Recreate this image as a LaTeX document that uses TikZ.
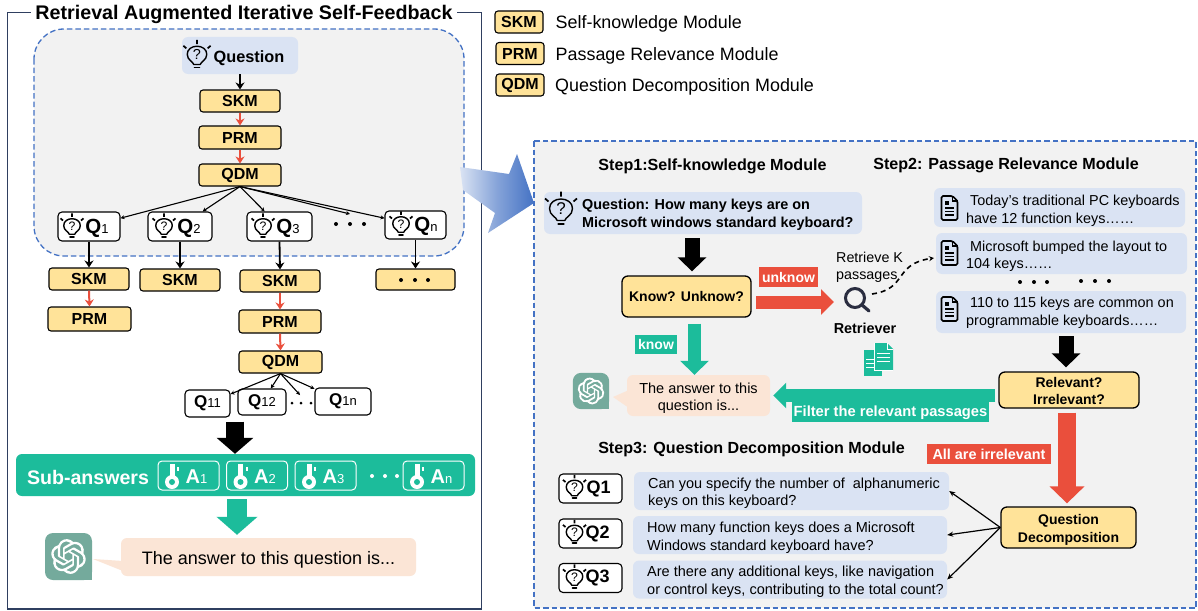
\documentclass[tikz,border=0pt]{standalone}
\usepackage{fontspec}
\setmainfont{Liberation Sans}
\usetikzlibrary{arrows.meta}
\usetikzlibrary{svg.path}
\definecolor{modfill}{HTML}{FFE399}
\definecolor{askfill}{HTML}{DAE3F3}
\definecolor{panelfill}{HTML}{F2F2F2}
\definecolor{dashblue}{HTML}{4472C4}
\definecolor{framenavy}{HTML}{2F3F60}
\definecolor{mint}{HTML}{1CBC9B}
\definecolor{tomato}{HTML}{EA4F3C}
\definecolor{peach}{HTML}{FBE5D6}
\definecolor{gptgreen}{HTML}{74AA9C}
\definecolor{lensink}{HTML}{2A2D40}
\newcommand{\fs}[1]{\fontsize{#1}{17.5}\selectfont}
\newcommand{\subq}[2]{\textbf{#1}{\fontsize{13}{13}\selectfont #2}}
\tikzset{
	every node/.style = {inner sep = 0pt},
	panel/.style = {draw = dashblue, fill = panelfill, line width = 1.3pt, dash pattern = on 5.5pt off 3pt},
	modbox/.style = {draw = black, fill = modfill, line width = 1.1pt, rounded corners = 3pt, font = \fs{16}\bfseries, align = center},
	bigbox/.style = {modbox, line width = 1.3pt, rounded corners = 6pt, font = \fs{14}\bfseries},
	qbox/.style = {draw = black, fill = white, line width = 1.1pt, rounded corners = 4pt},
	ask/.style = {fill = askfill, rounded corners = 6pt},
	reply/.style = {fill = peach, rounded corners = 6pt},
	tag/.style = {text = white, font = \fs{14}\bfseries},
	plain/.style = {font = \fs{14.4}, align = left, anchor = west},
	stepname/.style = {font = \fs{16.1}\bfseries},
	blackline/.style = {draw = black, line width = 1.8pt, -{Stealth[length = 7pt, width = 9pt]}},
	redline/.style = {draw = tomato, line width = 2pt, -{Stealth[length = 7pt, width = 9pt]}},
	thinline/.style = {draw = black, line width = 1.1pt, -{Stealth[length = 4pt, width = 4pt]}},
	fat/.style n args = {3}{line width = #1pt, -{Triangle[length = #2pt, width = #3pt]}},
	dot/.style = {circle, fill = #1, minimum size = 4pt},
	bulb/.pic = {
		\draw[line width = 1.4pt, line cap = round, line join = round] (-3.8, 10) .. controls (-4.5, 6.5) and (-11.5, 5) .. (-11.5, -2)
			.. controls (-11.5, -8) and (-6, -11.5) .. (0, -11.5) .. controls (6, -11.5) and (11.5, -8) .. (11.5, -2)
			.. controls (11.5, 5) and (4.5, 6.5) .. (3.8, 10) -- cycle;
		\draw[line width = 1.8pt, line cap = round] (-2.8, 13.5) -- (2.8, 13.5);
		\draw[line width = 1.7pt] (0, -14) -- (0, -19) (-12.5, -9) -- (-16, -12) (12.5, -9) -- (16, -12);
		\node[transform shape, font = \fs{17}] (-mark) at (0, -1.5) {?};
	},
	keyicon/.pic = {
		\fill[white] (-2.5, -18) rectangle (2.5, 0);
		\fill[white] (0, 0) circle (7);
		\fill[mint] (0, 0) circle (3);
		\fill[white] (5, -15.5) rectangle (7, -11.5);
	},
	docicon/.pic = {
		\draw[line width = 1.7pt, rounded corners = 1.5pt] (-8, -12) -- (3, -12) -- (8, -7) -- (8, 12) -- (-8, 12) -- cycle;
		\draw[line width = 1.2pt] (3, -12) -- (3, -7) -- (8, -7);
		\fill (-4.5, -7) rectangle (-0.5, -3);
		\draw[line width = 1.4pt] (-4.5, 0) -- (4.5, 0) (-4.5, 3.5) -- (4.5, 3.5) (-4.5, 7) -- (4.5, 7);
	},
	gptlogo/.pic = {
		\fill[gptgreen, rounded corners = 8pt] (-23.5, -23.5) rectangle (23.5, 23.5);
		\fill[gptgreen] (10, 10) rectangle (23.5, 23.5);
		\fill[white, xscale = 1.45, yscale = -1.45, shift = {(-12pt, -12pt)}] svg "M22.2819 9.8211 a5.9847 5.9847 0 0 0 -0.5157 -4.9108 a6.0462 6.0462 0 0 0 -6.5098 -2.9 A6.0651 6.0651 0 0 0 4.9807 4.1818 a5.9847 5.9847 0 0 0 -3.9977 2.9 a6.0462 6.0462 0 0 0 0.7427 7.0966 a5.98 5.98 0 0 0 0.511 4.9107 a6.051 6.051 0 0 0 6.5146 2.9001 A5.9847 5.9847 0 0 0 13.2599 24 a6.0557 6.0557 0 0 0 5.7718 -4.2058 a5.9894 5.9894 0 0 0 3.9977 -2.9001 a6.0557 6.0557 0 0 0 -0.7475 -7.0729 z M13.2599 22.4292 a4.4755 4.4755 0 0 1 -2.8764 -1.0408 l0.1419 -0.0804 l4.7783 -2.7582 a0.7948 0.7948 0 0 0 0.3927 -0.6813 v-6.7369 l2.02 1.1686 a0.071 0.071 0 0 1 0.038 0.052 v5.5826 a4.504 4.504 0 0 1 -4.4945 4.4944 z M3.5992 18.3038 a4.4708 4.4708 0 0 1 -0.5346 -3.0137 l0.142 0.0852 l4.783 2.7582 a0.7712 0.7712 0 0 0 0.7806 0 l5.8428 -3.3685 v2.3324 a0.0804 0.0804 0 0 1 -0.0332 0.0615 L9.74 19.9502 a4.4992 4.4992 0 0 1 -6.1408 -1.6464 z M2.3408 7.8956 a4.485 4.485 0 0 1 2.3655 -1.9728 V11.6 a0.7664 0.7664 0 0 0 0.3879 0.6765 l5.8144 3.3543 l-2.0201 1.1685 a0.0757 0.0757 0 0 1 -0.071 0 l-4.8303 -2.7865 A4.504 4.504 0 0 1 2.3408 7.872 z M18.9371 11.7514 L13.1038 8.364 L15.1192 7.2 a0.0757 0.0757 0 0 1 0.071 0 l4.8303 2.7913 a4.4944 4.4944 0 0 1 -0.6765 8.1042 v-5.6772 a0.79 0.79 0 0 0 -0.407 -0.667 z M20.9478 8.7283 l-0.142 -0.0852 l-4.7735 -2.7818 a0.7759 0.7759 0 0 0 -0.7854 0 L9.409 9.2297 V6.8974 a0.0662 0.0662 0 0 1 0.0284 -0.0615 l4.8303 -2.7866 a4.4992 4.4992 0 0 1 6.6802 4.66 z M8.3065 12.863 l-2.02 -1.1638 a0.0804 0.0804 0 0 1 -0.038 -0.0567 V6.0742 a4.4992 4.4992 0 0 1 7.3757 -3.4537 l-0.142 0.0805 L8.704 5.459 a0.7948 0.7948 0 0 0 -0.3927 0.6813 z M9.4041 10.4976 l2.602 -1.4998 l2.6069 1.4998 v2.9994 l-2.5974 1.4997 l-2.6067 -1.4997 z";
	},
}
\begin{document}
\begin{tikzpicture}[x = 1pt, y = -1pt]
	\useasboundingbox (0, 0) rectangle (1198, 610);
	\fill[white] (0, 0) rectangle (1198, 610);
	\draw[framenavy, line width = 1.5pt] (7.5, 12.5) rectangle (481.5, 609);
	\node[fill = white, minimum height = 6pt, font = \fs{19.7}\bfseries, inner xsep = 4pt] (title) at (244, 14) {Retrieval Augmented Iterative Self-Feedback};
	\draw[panel, rounded corners = 30pt] (34, 29) rectangle (464, 256);
	\draw[panel] (534, 141) rectangle (1196, 608);

	\node[modbox, minimum width = 48pt, minimum height = 22pt] (legendskm) at (519, 22) {SKM};
	\node[modbox, minimum width = 48pt, minimum height = 22pt] (legendprm) at (520, 53.5) {PRM};
	\node[modbox, minimum width = 48pt, minimum height = 22pt] (legendqdm) at (520, 85) {QDM};
	\node[font = \fs{17.9}, anchor = west] (legendskmtext) at (555.5, 23.5) {Self-knowledge Module};
	\node[font = \fs{17.9}, anchor = west] (legendprmtext) at (555.5, 55.5) {Passage Relevance Module};
	\node[font = \fs{17.9}, anchor = west] (legendqdmtext) at (555, 86.5) {Question Decomposition Module};

	\node[ask, minimum width = 116pt, minimum height = 37pt] (question) at (240, 55.5) {};
	\pic[scale = 0.85] (bulbtop) at (197, 56) {bulb};
	\node[font = \fs{16.3}\bfseries] (questiontext) at (249, 58) {Question};
	\node[modbox, minimum width = 80pt, minimum height = 22pt] (skm) at (240, 101) {SKM};
	\node[modbox, minimum width = 82pt, minimum height = 23pt] (prm) at (240, 137.5) {PRM};
	\node[modbox, minimum width = 82pt, minimum height = 22pt] (qdm) at (240, 175) {QDM};
	\draw[blackline] (question.south) -- (skm.north);
	\draw[redline] (skm.south) -- (prm.north);
	\draw[redline] (prm.south) -- (qdm.north);

	\node[qbox, minimum width = 62pt, minimum height = 29pt] (q1) at (89, 226.5) {};
	\node[qbox, minimum width = 64pt, minimum height = 29pt] (q2) at (180, 226.5) {};
	\node[qbox, minimum width = 65pt, minimum height = 29pt] (q3) at (279.5, 226.5) {};
	\node[qbox, minimum width = 61pt, minimum height = 28pt] (qn) at (415.5, 225) {};
	\coordinate (qdots) at (350, 214);
	\foreach \n/\x/\y/\s in {1/72/227/1, 2/164/227/2, 3/263/227/3, n/401/225/n} {
		\pic[scale = 0.72] (bulbq\n) at (\x, \y) {bulb};
		\node[font = \fs{20.5}] (q\n text) at (\x + 25, \y + 1) {\subq{Q}{\s}};
	}
	\foreach \x in {336, 350, 364}
		\node[dot = black] (qd\x) at (\x, 224) {};
	\foreach \t in {q1, q2, q3, qdots, qn}
		\draw[thinline] (qdm.south) -- (\t);

	\node[modbox, minimum width = 80pt, minimum height = 22pt] (skma) at (89, 279) {SKM};
	\node[modbox, minimum width = 80pt, minimum height = 22pt] (skmb) at (180, 280) {SKM};
	\node[modbox, minimum width = 80pt, minimum height = 22pt] (skmc) at (280, 281) {SKM};
	\node[modbox, minimum width = 79pt, minimum height = 21pt] (skmd) at (415.5, 279.5) {};
	\foreach \x in {401, 415, 428}
		\node[dot = black] (sd\x) at (\x, 280) {};
	\draw[blackline] (q1.south) -- (skma.north);
	\draw[blackline] (q2.south) -- (skmb.north);
	\draw[blackline] (q3.south) -- (skmc.north);
	\draw[blackline] (qn.south) -- (skmd.north);
	\node[modbox, minimum width = 83pt, minimum height = 24pt] (prma) at (89.5, 319) {PRM};
	\node[modbox, minimum width = 82pt, minimum height = 23pt] (prmc) at (280, 321.5) {PRM};
	\node[modbox, minimum width = 83pt, minimum height = 22pt] (qdmc) at (280.5, 362) {QDM};
	\draw[redline] (skma.south) -- (prma.north);
	\draw[redline] (skmc.south) -- (prmc.north);
	\draw[redline] (prmc.south) -- (qdmc.north);

	\node[qbox, minimum width = 45pt, minimum height = 27pt, font = \fs{17}] (q11) at (207.5, 403.5) {\subq{Q}{11}};
	\node[qbox, minimum width = 48pt, minimum height = 26pt, font = \fs{17}] (q12) at (262, 402) {\subq{Q}{12}};
	\node[qbox, minimum width = 56pt, minimum height = 27pt, font = \fs{17}] (q1n) at (343, 401.5) {\subq{Q}{1n}};
	\coordinate (qqdots) at (300, 395);
	\foreach \x in {292, 301, 311}
		\node[dot = black, minimum size = 3pt] (qqd\x) at (\x, 403) {};
	\foreach \t in {q11, q12, qqdots, q1n}
		\draw[thinline] (qdmc.south) -- (\t);

	\node[fill = mint, rounded corners = 6pt, minimum width = 459pt, minimum height = 42pt] (subbar) at (245.5, 475) {};
	\node[text = white, font = \fs{19.6}\bfseries] (subtext) at (88, 477) {Sub-answers};
	\coordinate (intoall) at (235, 0);
	\draw[fat = {18}{16}{36}, shorten <= 4pt] (intoall |- q11.south) -- (intoall |- subbar.north);
	\foreach \n/\x/\s in {1/188.5/1, 2/257/2, 3/325.5/3, n/433.5/n} {
		\node[draw = white, line width = 1pt, rounded corners = 4pt, minimum width = 61pt, minimum height = 29pt] (ans\n) at (\x, 475.5) {};
		\pic (keyans\n) at (\x - 16.5, 482) {keyicon};
		\node[text = white, font = \fs{20}] (anstext\n) at (\x + 8, 477) {\subq{A}{\s}};
	}
	\foreach \x in {372, 385, 397}
		\node[dot = white] (ad\x) at (\x, 476) {};
	\node[reply, minimum width = 295pt, minimum height = 38pt] (bubble) at (268.5, 557) {};
	\fill[peach] (93, 559) -- (123, 561) -- (123, 571) -- cycle;
	\node[font = \fs{18}] (bubbletext) at (268.5, 560) {The answer to this question is...};
	\pic (logoa) at (68.5, 556.5) {gptlogo};
	\coordinate (intoreply) at (237, 0);
	\draw[mint, fat = {20}{18}{40}, shorten <= 3pt, shorten >= 3pt] (intoreply |- subbar.south) -- (intoreply |- bubble.north);

	\shade[left color = askfill, right color = dashblue, middle color = dashblue!65] (460, 167) -- (509, 174) -- (517, 154) -- (534, 203) -- (488, 233) -- (495, 213) -- (463, 190) -- cycle;

	\node[stepname] (stepone) at (712.5, 166) {Step1:Self-knowledge Module};
	\node[stepname] (steptwo) at (1006, 165) {Step2: Passage Relevance Module};
	\node[stepname] (stepthree) at (751.5, 449) {Step3: Question Decomposition Module};

	\node[ask, minimum width = 318pt, minimum height = 42pt] (qmain) at (703, 213) {};
	\pic (bulbmain) at (561, 210.5) {bulb};
	\node[plain, font = \fs{14.4}\bfseries] (qmaintext) at (582, 215) {Question: How many keys are on\\Microsoft windows standard keyboard?};
	\node[bigbox, minimum width = 129pt, minimum height = 41pt] (know) at (686.5, 296.5) {Know? Unknow?};
	\coordinate (intoknow) at (692, 0);
	\draw[fat = {15}{14}{28}, shorten <= 4pt, shorten >= 4pt] (intoknow |- qmain.south) -- (intoknow |- know.north);
	\node[fill = tomato, tag, minimum width = 59pt, minimum height = 20pt] (unknowtag) at (788.5, 277) {unknow};
	\coordinate (lens) at (855, 298);
	\coordinate (lensin) at (756, 302);
	\coordinate (lensout) at (834, 302);
	\draw[tomato, fat = {13}{13}{25}] (lensin) -- (lensout);
	\draw[lensink, line width = 3pt] (lens) circle (9.5);
	\draw[lensink, line width = 3.2pt, line cap = round] (862, 305) -- (869, 311);
	\node[font = \fs{14.3}, align = left, anchor = west] (retrievek) at (836, 267.5) {Retrieve K\\passages};
	\node[font = \fs{14.4}\bfseries] (retriever) at (865, 328) {Retriever};
	\coordinate (lensarc) at (872, 294);
	\coordinate (psgin) at (934, 258);
	\draw[black, line width = 1.6pt, dash pattern = on 5pt off 4pt, -{Stealth[length = 5pt, width = 5pt]}] (lensarc) .. controls (908, 289) and (893, 264) .. (psgin);

	\node[ask, minimum width = 251pt, minimum height = 39pt] (psga) at (1059.5, 207.5) {};
	\node[ask, minimum width = 251pt, minimum height = 41pt] (psgb) at (1061.5, 253.5) {};
	\node[ask, minimum width = 250pt, minimum height = 42pt] (psgc) at (1061, 312) {};
	\pic (doca) at (949.5, 208) {docicon};
	\pic (docb) at (949.5, 253) {docicon};
	\pic (docc) at (949.5, 309) {docicon};
	\node[plain] (psgatext) at (966, 211) {\hspace*{4pt}Today's traditional PC keyboards\\have 12 function keys……};
	\node[plain] (psgbtext) at (966, 256.5) {\hspace*{4pt}Microsoft bumped the layout to\\104 keys……};
	\node[plain] (psgctext) at (966, 313) {\hspace*{4pt}110 to 115 keys are common on\\programmable keyboards……};
	\foreach \x in {1020, 1034, 1047}
		\node[dot = black] (pd\x) at (\x, 282) {};
	\foreach \x in {1081, 1095, 1109}
		\node[dot = black] (pe\x) at (\x, 281) {};

	\node[bigbox, minimum width = 140pt, minimum height = 36pt] (relevant) at (1069, 390) {};
	\node[font = \fs{14}\bfseries, align = center] (relevanttext) at (1069, 391) {Relevant?\\Irrelevant?};
	\coordinate (intorelevant) at (1066, 0);
	\draw[fat = {15}{14}{28}, shorten <= 3pt, shorten >= 4pt] (intorelevant |- psgc.south) -- (intorelevant |- relevant.north);

	\node[reply, minimum width = 143pt, minimum height = 41pt] (reply) at (698.5, 395.5) {};
	\fill[peach] (613, 397) -- (629, 390) -- (629, 408) -- cycle;
	\node[font = \fs{14.5}, align = center] (replytext) at (698.5, 398) {The answer to this\\question is...};
	\pic[scale = 0.77] (logob) at (591, 391) {gptlogo};
	\coordinate (intoanswer) at (694.5, 0);
	\draw[mint, fat = {13}{14}{28}, shorten <= 6pt] (intoanswer |- know.south) -- (intoanswer |- reply.north);
	\node[fill = mint, tag, minimum width = 42pt, minimum height = 19pt] (knowtag) at (656, 344.5) {know};
	\draw[mint, fat = {13}{13}{25}, shorten <= 3pt, shorten >= 3pt] (relevant.west |- reply.east) -- (reply.east);
	\node[fill = mint, minimum width = 197pt, minimum height = 20pt] (filtertag) at (890.5, 412) {};
	\node[tag, font = \fs{14.7}\bfseries] (filtertext) at (890.5, 413) {Filter the relevant passages};
	\fill[mint] (864, 350) rectangle (882, 376);
	\fill[mint] (874, 343) -- (887, 343) -- (893, 349) -- (893, 370) -- (874, 370) -- cycle;
	\draw[white, line width = 1pt] (874, 343) -- (874, 370) -- (893, 370);
	\draw[white, line width = 0.8pt] (866, 359) -- (874, 359) (866, 363) -- (874, 363) (866, 367) -- (874, 367)
		(877, 353) -- (890, 353) (877, 357) -- (890, 357) (877, 361) -- (890, 361);
	\draw[white, line width = 0.7pt] (887, 343) -- (887, 349) -- (893, 349);

	\node[bigbox, minimum width = 135pt, minimum height = 41pt] (decomp) at (1068.5, 527.5) {};
	\node[font = \fs{14}\bfseries, align = center] (decomptext) at (1068.5, 530) {Question\\Decomposition};
	\coordinate (intodecomp) at (1067, 0);
	\draw[tomato, fat = {18}{17}{34}, shorten <= 4pt, shorten >= 3pt] (intodecomp |- relevant.south) -- (intodecomp |- decomp.north);
	\node[fill = tomato, tag, font = \fs{14.4}\bfseries, minimum width = 124pt, minimum height = 20pt] (irreltag) at (989, 454) {All are irrelevant};

	\foreach \n/\y/\x in {1/488.5/598.5, 2/533.5/597.5, 3/578/597.5} {
		\node[qbox, minimum width = 63pt, minimum height = 29pt] (sq\n) at (590.5, \y) {};
		\pic[scale = 0.72] (bulbs\n) at (574.5, \y) {bulb};
		\node[font = \fs{18}\bfseries] (sq\n text) at (\x, \y) {Q\n};
	}
	\node[ask, minimum width = 315pt, minimum height = 38pt] (suba) at (791.5, 491) {};
	\node[ask, minimum width = 314pt, minimum height = 38pt] (subb) at (790, 535) {};
	\node[ask, minimum width = 314pt, minimum height = 38pt] (subc) at (790, 579.5) {};
	\node[plain, font = \fs{14.5}] (subatext) at (648, 493) {Can you specify the number of~~alphanumeric\\keys on this keyboard?};
	\node[plain, font = \fs{14.5}] (subbtext) at (647, 537.5) {How many function keys does a Microsoft\\Windows standard keyboard have?};
	\node[plain, font = \fs{14.5}] (subctext) at (647, 581.5) {Are there any additional keys, like navigation\\or control keys, contributing to the total count?};
	\foreach \t in {suba, subb, subc}
		\draw[thinline, line width = 1.2pt, -{Stealth[length = 6pt, width = 5pt]}] (decomp.west) -- (\t.east);
\end{tikzpicture}
\end{document}
